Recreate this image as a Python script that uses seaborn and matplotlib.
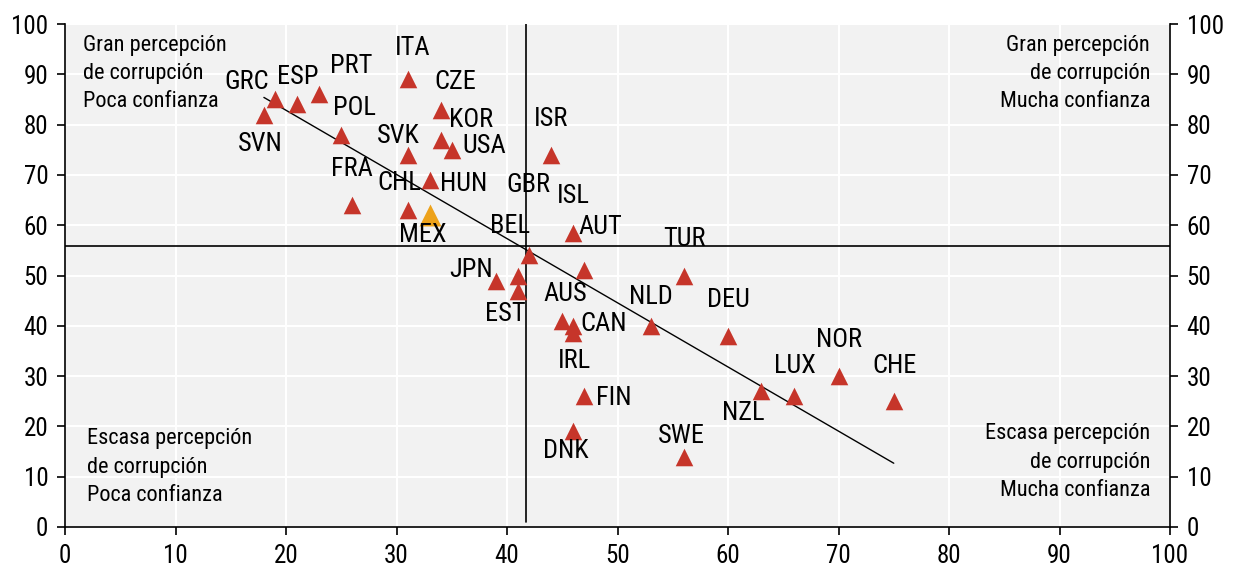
import numpy as np
import pandas as pd
import matplotlib
matplotlib.use("Agg")
import matplotlib.pyplot as plt
import seaborn as sns

# data
countries = ["GRC", "SVN", "ESP", "PRT", "POL", "ITA", "CZE", "KOR", "USA", "SVK",
             "ISR", "HUN", "FRA", "CHL", "MEX", "GBR", "ISL", "BEL", "AUT", "TUR",
             "JPN", "EST", "AUS", "CAN", "IRL", "NLD", "DEU", "FIN", "DNK", "SWE",
             "NZL", "LUX", "NOR", "CHE"]
confianza = [19, 18, 21, 23, 25, 31, 34, 34, 35, 31,
             44, 33, 26, 31, 33, 41, 47, 42, 46, 56,
             39, 41, 45, 46, 46, 53, 60, 47, 46, 56,
             63, 66, 70, 75]
corrupcion = [85, 82, 84, 86, 78, 89, 83, 77, 75, 74,
              74, 69, 64, 63, 62, 50, 51, 54, 58.5, 50,
              49, 47, 41, 40, 38.5, 40, 38, 26, 19, 14,
              27, 26, 30, 25]
highlight = "MEX"
x_ref = 41.7   # vertical reference line
y_ref = 55.8   # horizontal reference line

quadrant_texts = [
    "Gran percepción\nde corrupción\nPoca confianza",
    "Gran percepción\nde corrupción\nMucha confianza",
    "Escasa percepción\nde corrupción\nPoca confianza",
    "Escasa percepción\nde corrupción\nMucha confianza",
]

# label placement (pixels from the marker)
label_offsets = {
    "ITA": (5, 31), "CZE": (15, 28), "PRT": (32, 28), "ESP": (1, 27),
    "GRC": (-28, 17), "POL": (13, 27), "SVN": (-4, -29), "KOR": (30, 20),
    "SVK": (-9, 19), "USA": (33, 4), "ISR": (0, 36), "FRA": (0, 36),
    "CHL": (-8, 27), "HUN": (34, -4), "GBR": (10, 91), "BEL": (-19, 29),
    "ISL": (-11, 74), "AUT": (27, 6), "MEX": (-7, -20), "TUR": (1, 36),
    "JPN": (-25, 11), "EST": (-13, -23), "AUS": (3, 27), "CAN": (30, 2),
    "IRL": (1, -28), "NLD": (0, 29), "DEU": (0, 36), "FIN": (29, -2),
    "DNK": (-7, -20), "SWE": (-2, 21), "NZL": (-18, -22), "LUX": (1, 30),
    "NOR": (1, 36), "CHE": (1, 35),
}

df = pd.DataFrame({"pais": countries, "x": confianza, "y": corrupcion})
df["grupo"] = np.where(df["pais"] == highlight, "mex", "otros")

sns.set_style("darkgrid", {"axes.facecolor": "#f2f2f2", "grid.color": "white"})
plt.rcParams["font.family"] = ["Roboto Condensed", "Liberation Sans", "DejaVu Sans"]
plt.rcParams["text.color"] = "black"
plt.rcParams["xtick.color"] = "black"
plt.rcParams["ytick.color"] = "black"

fig = plt.figure(figsize=(12.42, 5.71), dpi=100)
ax = fig.add_axes([65 / 1242, 1 - 527 / 571, (1170 - 65) / 1242, (527 - 24) / 571])

red = "#c6352a"
orange = "#eda21a"

# trend line (least squares) from min to max x
slope, inter = np.polyfit(df["x"], df["y"], 1)
xs = np.array([df["x"].min(), df["x"].max()])
ax.plot(xs, slope * xs + inter, color="black", lw=1, zorder=2)

# reference lines
ax.plot([x_ref, x_ref], [1, 100], color="black", lw=1.2, zorder=2)
ax.plot([0, 100], [y_ref, y_ref], color="black", lw=1.2, zorder=2)

others = df[df["grupo"] == "otros"]
mex = df[df["grupo"] == "mex"]
sns.scatterplot(data=others, x="x", y="y", marker="^", s=160, color=red,
                linewidth=0, ax=ax, zorder=3)
sns.scatterplot(data=mex, x="x", y="y", marker="^", s=250, color=orange,
                linewidth=0, ax=ax, zorder=3)

for _, r in df.iterrows():
    dx, dy = label_offsets[r["pais"]]
    ax.annotate(r["pais"], (r["x"], r["y"]), xytext=(dx, dy),
                textcoords="offset pixels", ha="center", va="center",
                fontsize=19, color="black", zorder=4)

ax.set_xlim(0, 100)
ax.set_ylim(0, 100)
ax.set_xticks(range(0, 101, 10))
ax.set_yticks(range(0, 101, 10))
ax.set_xlabel("")
ax.set_ylabel("")
ax.grid(True, color="white", lw=1.5)
ax.set_axisbelow(True)

for side in ["left", "right", "bottom"]:
    ax.spines[side].set_visible(True)
    ax.spines[side].set_color("black")
    ax.spines[side].set_linewidth(1.2)
ax.spines["top"].set_visible(False)

ax.tick_params(axis="both", direction="out", length=6, width=1.2, color="black",
               labelcolor="black", labelsize=18, pad=6, left=True, bottom=True)
ax.tick_params(axis="y", right=True, labelright=True)

# quadrant captions
qs = 16
ls = 1.45
ax.text(1.6, 97.8, quadrant_texts[0], ha="left", va="top", fontsize=qs, linespacing=ls)
ax.text(98.2, 97.8, quadrant_texts[1], ha="right", va="top", fontsize=qs, linespacing=ls)
ax.text(2.0, 19.6, quadrant_texts[2], ha="left", va="top", fontsize=qs, linespacing=ls)
ax.text(98.2, 20.6, quadrant_texts[3], ha="right", va="top", fontsize=qs, linespacing=ls)

fig.savefig("out.png", dpi=100)
